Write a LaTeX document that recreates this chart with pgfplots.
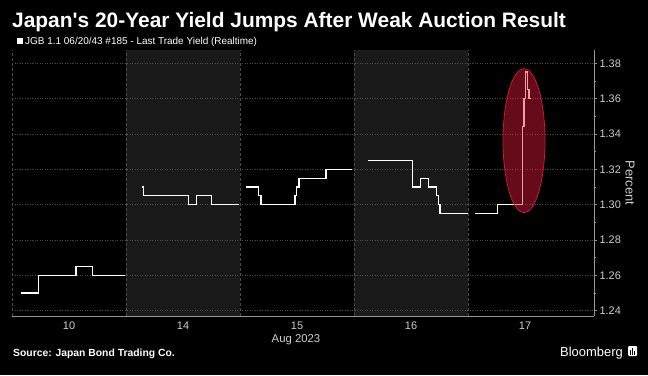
\documentclass[border=0pt]{standalone}
\usepackage{pgfplots}
\pgfplotsset{compat=1.18}
\usepackage{fontspec}
\setmainfont{Liberation Sans}[Ligatures=TeXOff]
\definecolor{bandgray}{RGB}{26,26,26}
\definecolor{gridgray}{RGB}{80,80,80}
\definecolor{vgray}{RGB}{75,75,75}
\definecolor{axisgray}{RGB}{150,150,150}
\definecolor{ticktext}{RGB}{205,205,205}
\definecolor{ellred}{RGB}{232,27,60}
\definecolor{ellborder}{RGB}{215,25,55}
\begin{document}
\begin{tikzpicture}[x=1bp,y=1bp]
\begin{axis}[
  set layers=standard,
  scale only axis,
  width=582bp, height=266bp,
  at={(12bp,-316bp)}, anchor=south west,
  xmin=-0.5, xmax=4.605, ymin=1.237, ymax=1.3875,
  axis x line*=bottom, axis y line*=right,
  axis line style={draw=axisgray, line width=0.6bp},
  xtick={0,1,2,3,4}, xticklabels={10,14,15,16,17},
  x tick style={draw=none},
  x tick label style={text=ticktext, font=\fontsize{11}{13}\selectfont, yshift=1bp},
  extra x ticks={-0.5,0.5,1.5,2.5,3.5},
  extra x tick labels={},
  extra x tick style={grid=major, major grid style={dash pattern=on 3bp off 2bp, vgray, line width=0.6bp}, tick style={draw=none}},
  ytick={1.24,1.26,1.28,1.30,1.32,1.34,1.36,1.38},
  minor y tick num=1,
  tick align=outside,
  major tick length=3bp, minor tick length=2bp,
  y tick style={draw=axisgray, line width=0.6bp},
  ymajorgrids,
  y grid style={dash pattern=on 1bp off 1.5bp, gridgray, line width=0.6bp},
  y tick label style={/pgf/number format/fixed, /pgf/number format/fixed zerofill, /pgf/number format/precision=2, /pgf/number format/assume math mode=true, text=ticktext, font=\fontsize{11}{13}\selectfont, xshift=-1bp},
  clip=false,
]
\begin{pgfonlayer}{axis background}
\fill[black] ([xshift=-12bp,yshift=-59bp]rel axis cs:0,0) rectangle ([xshift=54bp,yshift=50bp]rel axis cs:1,1);
\fill[bandgray] (axis cs:0.5,1.237) rectangle (axis cs:1.5,1.3875);
\fill[bandgray] (axis cs:2.5,1.237) rectangle (axis cs:3.5,1.3875);
\end{pgfonlayer}
\addplot[const plot, white, line width=1.2bp, mark=none] coordinates {
(-0.421,1.25) (-0.269,1.26) (0.061,1.265) (0.208,1.26) (0.491,1.26)};
\addplot[const plot, white, line width=1.2bp, mark=none] coordinates {
(0.638,1.31) (0.652,1.305) (1.047,1.30) (1.121,1.305) (1.252,1.30) (1.489,1.30)};
\addplot[const plot, white, line width=1.2bp, mark=none] coordinates {
(1.553,1.31) (1.661,1.305) (1.684,1.30) (1.982,1.305) (1.997,1.31) (2.018,1.315) (2.254,1.32) (2.485,1.32)};
\addplot[const plot, white, line width=1.2bp, mark=none] coordinates {
(2.625,1.325) (3.015,1.31) (3.085,1.315) (3.152,1.31) (3.225,1.305) (3.239,1.30) (3.254,1.295) (3.497,1.295)};
\addplot[const plot, white, line width=1.2bp, mark=none] coordinates {
(3.564,1.295) (3.761,1.30) (3.980,1.344) (3.991,1.36) (4.006,1.375) (4.020,1.365) (4.035,1.36) (4.055,1.36)};
\fill[ellred, fill opacity=0.44] (axis cs:3.991,1.3362) ellipse [x radius=21bp, y radius=72bp];
\draw[ellborder, line width=0.7bp] (axis cs:3.991,1.3362) ellipse [x radius=21bp, y radius=72bp];
\node[rotate=-90, text=ticktext, font=\fontsize{13}{15}\selectfont] at ([xshift=36bp]axis description cs:1,0.5) {Percent};
\end{axis}
\node[anchor=base west, text=white, font=\bfseries\fontsize{21}{25}\selectfont, inner sep=0] at (12,-27) {Japan's 20-Year Yield Jumps After Weak Auction Result};
\fill[white] (17,-38) rectangle (23,-44);
\node[anchor=base west, text=white, font=\fontsize{10}{12}\selectfont, inner sep=0] at (25,-44.5) {JGB 1.1 06/20/43 \#185 - Last Trade Yield (Realtime)};
\node[anchor=base, text=ticktext, font=\fontsize{11.4}{13}\selectfont, inner sep=0] at (296,-342) {Aug 2023};
\node[anchor=base west, text=white, font=\bfseries\fontsize{10.4}{12}\selectfont, inner sep=0] at (13,-356) {Source: Japan Bond Trading Co.};
\node[anchor=base west, text=white, font=\fontsize{13}{15}\selectfont, inner sep=0] at (560,-356) {Bloomberg};
\fill[white, rounded corners=1bp] (628,-346) rectangle (637,-356);
\fill[black] (630,-350) rectangle (631,-355);
\fill[black] (632,-348) rectangle (633,-355);
\fill[black] (634,-351) rectangle (635,-355);
\pgfresetboundingbox
\useasboundingbox (0,0) rectangle (648,-375);
\end{tikzpicture}
\end{document}
